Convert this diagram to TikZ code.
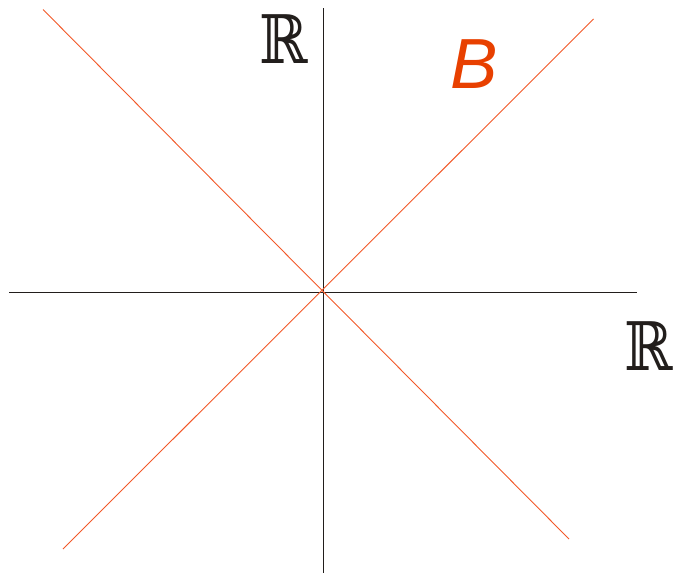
\documentclass[tikz,border=0pt]{standalone}
\usepackage{fontspec}
\usepackage{graphicx}
\newfontfamily\bfam{Liberation Sans}
\newfontfamily\rfam{DejaVu Serif}
\definecolor{lineor}{RGB}{242,88,40}
\definecolor{textor}{RGB}{232,64,0}
\definecolor{axis}{RGB}{34,30,28}
\newcommand{\dsR}{\scalebox{0.87}[1]{\fontsize{67}{67}\selectfont\rfam ℝ}}
\begin{document}
\begin{tikzpicture}[x=1pt,y=-1pt,
  axisline/.style={draw=axis,line width=0.9pt},
  setline/.style={draw=lineor,line width=0.9pt},
  lbl/.style={inner sep=0pt,anchor=base west}]
\useasboundingbox (0,0) rectangle (675,574);
\coordinate (xl) at (9,292.5);
\coordinate (xr) at (637,292.5);
\coordinate (yt) at (323,8);
\coordinate (yb) at (323,573);
\coordinate (d1a) at (43,9.5);
\coordinate (d1b) at (569,539);
\coordinate (d2a) at (63,549);
\coordinate (d2b) at (593.5,19);
\draw[axisline] (xl) -- (xr);
\draw[axisline] (yt) -- (yb);
\draw[setline] (d1a) -- (d1b);
\draw[setline] (d2a) -- (d2b);
\node[lbl,text=axis] (ry) at (259,63) {\dsR};
\node[lbl,text=axis] (rx) at (624,370) {\dsR};
\node[lbl,text=textor] (b) at (450,88) {\fontsize{71}{71}\selectfont\bfam\itshape B};
\end{tikzpicture}
\end{document}
